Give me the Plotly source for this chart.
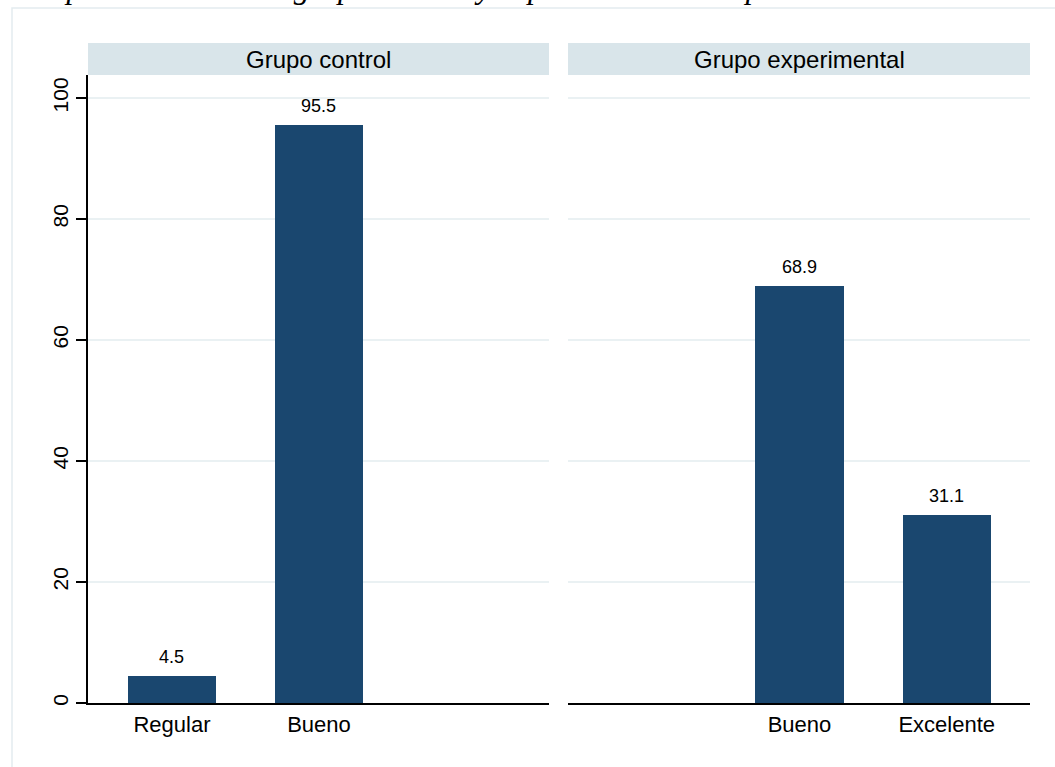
import plotly.graph_objects as go

# ---- data ----
categories = ["Regular", "Bueno", "Excelente"]
control_values = [4.5, 95.5, None]
experimental_values = [None, 68.9, 31.1]
panel_titles = ["Grupo control", "Grupo experimental"]
y_ticks = [0, 20, 40, 60, 80, 100]
title_text = "Comparación entre el grupo control y experimental en la prueba de salida"

BAR_COLOR = "#1a476f"
GRID_COLOR = "#eaf1f3"
STRIP_COLOR = "#d9e5ea"
FONT = "Liberation Sans, Arial, sans-serif"

W, H = 1055, 767
ML, MR, MT, MB = 88, 25, 75, 64
PW = W - ML - MR
PH = H - MT - MB

def px_x(p):
    return (p - ML) / PW

def px_y(p):
    return (H - MB - p) / PH

fig = go.Figure()
series = [control_values, experimental_values]
xaxes = ["x", "x2"]
yaxes = ["y", "y2"]
annotations = []
for i, vals in enumerate(series):
    xs = [j for j, v in enumerate(vals) if v is not None]
    ys = [v for v in vals if v is not None]
    fig.add_trace(go.Bar(
        x=xs, y=ys, width=0.6, marker=dict(color=BAR_COLOR, line=dict(width=0)),
        xaxis=xaxes[i], yaxis=yaxes[i], showlegend=False, hoverinfo="skip",
    ))
    for xv, yv in zip(xs, ys):
        annotations.append(dict(
            x=xv, y=yv, xref=xaxes[i], yref=yaxes[i], text=f"{yv:.1f}",
            showarrow=False, yanchor="middle", yshift=19,
            font=dict(family=FONT, size=18, color="black"),
        ))

doms = [[0, px_x(549)], [px_x(568), 1]]
xr = [-0.571, 2.565]
yr = [0, 103.8]

layout = dict(
    width=W, height=H,
    margin=dict(l=ML, r=MR, t=MT, b=MB),
    paper_bgcolor="white", plot_bgcolor="white",
    bargap=0,
    font=dict(family=FONT, color="black"),
)
for i in range(2):
    vals = series[i]
    tv = [j for j, v in enumerate(vals) if v is not None]
    tt = [categories[j] for j in tv]
    xkey = "xaxis" if i == 0 else "xaxis2"
    ykey = "yaxis" if i == 0 else "yaxis2"
    layout[xkey] = dict(
        domain=doms[i], range=xr, anchor=yaxes[i],
        tickmode="array", tickvals=tv, ticktext=tt,
        showline=True, linecolor="black", linewidth=1.5,
        ticks="", showgrid=False, zeroline=False,
        tickfont=dict(family=FONT, size=22, color="black"),
        ticklabelstandoff=1,
    )
    layout[ykey] = dict(
        domain=[0, 1], range=yr, anchor=xaxes[i],
        tickmode="array", tickvals=y_ticks,
        showgrid=True, gridcolor=GRID_COLOR, gridwidth=1.5,
        zeroline=False,
        showline=(i == 0), linecolor="black", linewidth=1.5,
        ticks="outside" if i == 0 else "", ticklen=10, tickwidth=1.5, tickcolor="black",
        showticklabels=(i == 0), tickangle=-90,
        tickfont=dict(family=FONT, size=21, color="black"),
        ticklabelstandoff=0,
    )
    if i == 1:
        layout[ykey]["matches"] = "y"

shapes = []
# outer graph region border
shapes.append(dict(type="rect", xref="paper", yref="paper",
                   x0=px_x(12), x1=px_x(1100), y0=px_y(900), y1=px_y(8),
                   line=dict(color="#e3ecef", width=1.5), fillcolor="rgba(0,0,0,0)", layer="below"))
for i in range(2):
    shapes.append(dict(type="rect", xref="paper", yref="paper",
                       x0=doms[i][0], x1=doms[i][1], y0=1, y1=px_y(43),
                       line=dict(width=0), fillcolor=STRIP_COLOR))
    annotations.append(dict(
        x=(doms[i][0] + doms[i][1]) / 2, y=(1 + px_y(43)) / 2, xref="paper", yref="paper",
        text=panel_titles[i], showarrow=False, xanchor="center", yanchor="middle",
        font=dict(family=FONT, size=24, color="black"),
    ))

annotations.append(dict(
    x=px_x(5), y=px_y(6), xref="paper", yref="paper", text=title_text,
    showarrow=False, xanchor="left", yanchor="bottom", borderpad=0,
    font=dict(family="Liberation Serif, Times New Roman, serif", size=32, color="black", style="italic"),
))

layout["shapes"] = shapes
layout["annotations"] = annotations
fig.update_layout(**layout)
fig.write_html("out.html", config={"displayModeBar": False},
               post_script="document.body.style.margin='0px';document.body.style.padding='0px';")
